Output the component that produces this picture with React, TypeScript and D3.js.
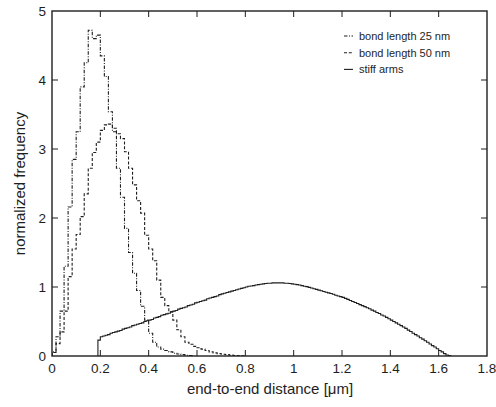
import React from "react";
import * as d3 from "d3";

// bin width of the two polymer histograms (µm)
const chainBin = 1 / 60;
const bond25 = [
  0.06, 0.28, 0.65, 1.3, 2.16, 2.85, 3.25, 3.9, 4.25, 4.72,
  4.6, 4.65, 4.35, 4.05, 3.54, 3.25, 2.72, 2.3, 1.85, 1.5,
  1.2, 0.95, 0.72, 0.52, 0.33, 0.2, 0.13, 0.1, 0.08, 0.06,
  0.04, 0.03, 0.02, 0.01, 0.005,
];
const bond50 = [
  0.05, 0.18, 0.35, 0.65, 1.15, 1.55, 1.76, 2.02, 2.35, 2.72,
  2.95, 3.1, 3.27, 3.35, 3.36, 3.3, 3.22, 3.15, 2.96, 2.72,
  2.48, 2.25, 2.07, 1.75, 1.55, 1.38, 1.1, 0.85, 0.73, 0.64,
  0.52, 0.38, 0.28, 0.2, 0.17, 0.14, 0.12, 0.1, 0.08, 0.06,
  0.045, 0.035, 0.025, 0.02, 0.012, 0.008, 0.005, 0.003,
];

// stiff arms histogram, 0.01 µm bins from 0.19
const stiffStart = 0.19;
const stiffBin = 0.01;
const stiff = [
  0.23,
  0.28, 0.29, 0.3, 0.31, 0.33, 0.34, 0.35, 0.36, 0.37, 0.39,
  0.4, 0.41, 0.42, 0.44, 0.45, 0.46, 0.47, 0.48, 0.5, 0.51,
  0.52, 0.53, 0.55, 0.56, 0.57, 0.59, 0.6, 0.61, 0.62, 0.64,
  0.65, 0.66, 0.68, 0.69, 0.7, 0.71, 0.73, 0.74, 0.75, 0.77,
  0.78, 0.79, 0.8, 0.81, 0.83, 0.84, 0.85, 0.86, 0.87, 0.89,
  0.9, 0.91, 0.92, 0.93, 0.94, 0.95, 0.96, 0.97, 0.98, 0.99,
  1.0, 1.01, 1.015, 1.02, 1.03, 1.035, 1.04, 1.045, 1.05, 1.055,
  1.055, 1.06, 1.06, 1.06, 1.06, 1.06, 1.055, 1.055, 1.05, 1.045,
  1.04, 1.035, 1.03, 1.02, 1.01, 1.005, 0.995, 0.985, 0.975, 0.965,
  0.955, 0.945, 0.935, 0.925, 0.915, 0.905, 0.895, 0.88, 0.87, 0.86,
  0.85, 0.835, 0.82, 0.805, 0.79, 0.775, 0.76, 0.745, 0.73, 0.715,
  0.7, 0.685, 0.665, 0.65, 0.63, 0.615, 0.595, 0.58, 0.56, 0.54,
  0.52, 0.5, 0.48, 0.46, 0.44, 0.42, 0.4, 0.375, 0.355, 0.33,
  0.31, 0.29, 0.265, 0.245, 0.22, 0.2, 0.175, 0.15, 0.13, 0.105,
  0.08, 0.06, 0.035, 0.015, 0.005,
];

const xTicks = [0, 0.2, 0.4, 0.6, 0.8, 1, 1.2, 1.4, 1.6, 1.8];
const yTicks = [0, 1, 2, 3, 4, 5];
const legendLabels = ["bond length 25 nm", "bond length 50 nm", "stiff arms"];

const W = 496;
const H = 407;
const left = 52;
const right = 487;
const top = 11;
const bottom = 356;
const ink = "#1e1e1e";
const font = "'Liberation Sans', Arial, sans-serif";

function stepPoints(values: number[], start: number, bin: number): [number, number][] {
  const pts: [number, number][] = [[start, 0]];
  values.forEach((v, i) => pts.push([start + i * bin, v]));
  pts.push([start + values.length * bin, 0]);
  return pts;
}

export default function App() {
  const x = d3.scaleLinear().domain([0, 1.8]).range([left, right]);
  const y = d3.scaleLinear().domain([0, 5]).range([bottom, top]);
  const line = d3
    .line<[number, number]>()
    .x((d) => x(d[0]))
    .y((d) => y(d[1]))
    .curve(d3.curveStepAfter);

  const series = [
    { pts: stepPoints(bond25, 0, chainBin), dash: "3.5,1.5,1,1.5" },
    { pts: stepPoints(bond50, 0, chainBin), dash: "3,1.8" },
    { pts: stepPoints(stiff, stiffStart, stiffBin), dash: "none" },
  ];

  return (
    <svg width={W} height={H} style={{ position: "absolute", left: 0, top: 0 }}>
      <rect width={W} height={H} fill="#fff" />
      <g clipPath="url(#plot)">
        <clipPath id="plot">
          <rect x={left} y={top} width={right - left} height={bottom - top} />
        </clipPath>
        {series.map((s, i) => (
          <path
            key={i}
            d={line(s.pts) || ""}
            fill="none"
            stroke={ink}
            strokeWidth={1.1}
            strokeDasharray={s.dash}
          />
        ))}
      </g>
      <rect x={left} y={top} width={right - left} height={bottom - top} fill="none" stroke={ink} strokeWidth={1.4} />
      {xTicks.slice(1, -1).map((t) => (
        <g key={"xt" + t}>
          <line x1={x(t)} x2={x(t)} y1={bottom} y2={bottom - 6} stroke={ink} strokeWidth={1} />
          <line x1={x(t)} x2={x(t)} y1={top} y2={top + 6} stroke={ink} strokeWidth={1} />
        </g>
      ))}
      {yTicks.slice(1, -1).map((t) => (
        <g key={"yt" + t}>
          <line x1={left} x2={left + 6} y1={y(t)} y2={y(t)} stroke={ink} strokeWidth={1} />
          <line x1={right} x2={right - 6} y1={y(t)} y2={y(t)} stroke={ink} strokeWidth={1} />
        </g>
      ))}
      <g fontFamily={font} fontSize={13.5} fill={ink}>
        {xTicks.map((t) => (
          <text key={"xl" + t} x={x(t)} y={373} textAnchor="middle">
            {String(t)}
          </text>
        ))}
        {yTicks.map((t) => (
          <text key={"yl" + t} x={46} y={y(t) + 5} textAnchor="end">
            {String(t)}
          </text>
        ))}
      </g>
      <text x={270} y={394} textAnchor="middle" fontFamily={font} fontSize={15} fill={ink}>
        end-to-end distance [μm]
      </text>
      <text
        transform={`translate(25,${(top + bottom) / 2}) rotate(-90)`}
        textAnchor="middle"
        fontFamily={font}
        fontSize={15}
        fill={ink}
      >
        normalized frequency
      </text>
      <g fontFamily={font} fontSize={11} fill={ink}>
        {legendLabels.map((lab, i) => (
          <g key={lab} transform={`translate(0,${40 + i * 16.7})`}>
            <line x1={344} x2={353} y1={-4} y2={-4} stroke={ink} strokeWidth={1.1} strokeDasharray={series[i].dash} />
            <text x={359} y={0}>{lab}</text>
          </g>
        ))}
      </g>
    </svg>
  );
}
